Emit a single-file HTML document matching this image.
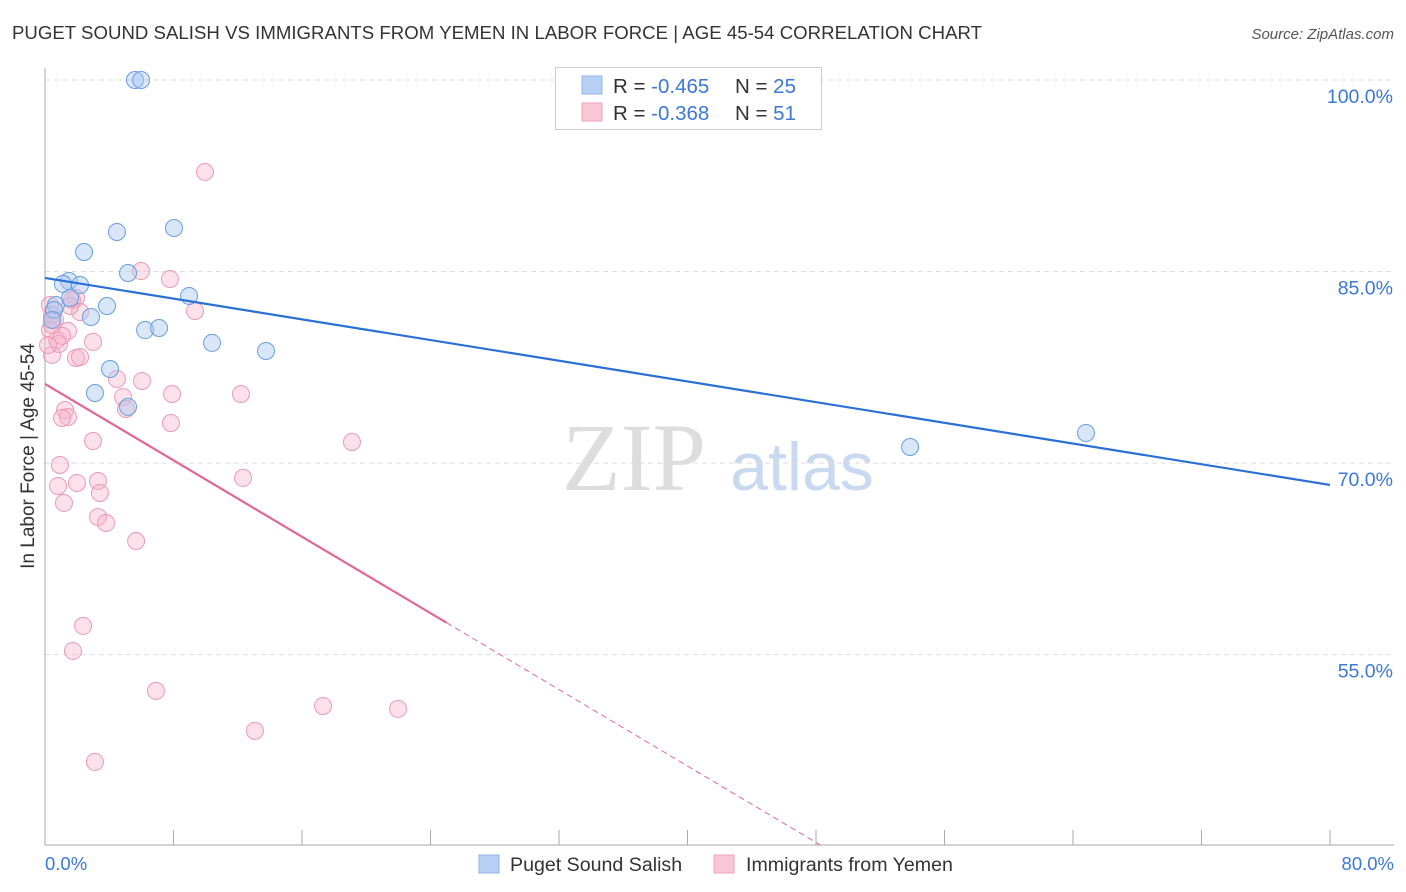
<!DOCTYPE html>
<html><head><meta charset="utf-8"><style>
body{margin:0;background:#fff;font-family:"Liberation Sans",sans-serif;}
svg{display:block}
</style></head><body>
<svg id="chart" width="1406" height="892" font-family="Liberation Sans, sans-serif">
<text x="12" y="39" font-size="18.6" fill="#333" textLength="970">PUGET SOUND SALISH VS IMMIGRANTS FROM YEMEN IN LABOR FORCE | AGE 45-54 CORRELATION CHART</text>
<text x="1394" y="39" font-size="15" fill="#555" font-style="italic" text-anchor="end">Source: ZipAtlas.com</text>
<g>
<text x="634" y="490" font-size="96" fill="#ddd" font-family="Liberation Serif, serif" text-anchor="middle">ZIP</text>
<text x="802" y="490" font-size="68" fill="#c9d9ef" text-anchor="middle">atlas</text>
</g>
<g id="grid"></g>
<line x1="45" y1="68" x2="45" y2="845" stroke="#aaa"/>
<line x1="45" y1="845" x2="1394" y2="845" stroke="#aaa"/>
<text transform="translate(34,456) rotate(-90)" font-size="19" fill="#333" text-anchor="middle">In Labor Force | Age 45-54</text>
<text x="45" y="870" font-size="18.5" fill="#3b78d8">0.0%</text>
<text x="1394" y="870" font-size="18.5" fill="#3b78d8" text-anchor="end">80.0%</text>
<g id="marks"></g>
<g>
<rect x="555.5" y="67.5" width="266" height="62" fill="#fff" stroke="#ccc"/>
<rect x="582" y="76" width="20" height="18" fill="#b7d0f4" stroke="#8fb3e8"/>
<rect x="582" y="103" width="20" height="18" fill="#f9c6d6" stroke="#f0a3bc"/>
<text x="613" y="93" font-size="20.5" fill="#333">R = <tspan fill="#3b78d8">-0.465</tspan><tspan x="735">N = </tspan><tspan fill="#3b78d8">25</tspan></text>
<text x="613" y="120" font-size="20.5" fill="#333">R = <tspan fill="#3b78d8">-0.368</tspan><tspan x="735">N = </tspan><tspan fill="#3b78d8"> 51</tspan></text>
</g>
<g>
<rect x="479" y="855" width="20" height="18" fill="#b7d0f4" stroke="#8fb3e8"/>
<text x="510" y="871" font-size="19.6" fill="#333">Puget Sound Salish</text>
<rect x="714" y="855" width="20" height="18" fill="#f9c6d6" stroke="#f0a3bc"/>
<text x="746" y="871" font-size="19.6" fill="#333">Immigrants from Yemen</text>
</g>
</svg>
<script>
const yTicks=[100,85,70,55];
const yTickLabels=["100.0%","85.0%","70.0%","55.0%"];
const blueX=[5.60,5.98,2.43,4.48,8.03,5.17,1.49,1.12,2.18,8.97,3.86,0.68,0.56,2.86,6.23,7.10,10.40,13.76,4.05,3.11,5.17,53.86,64.81,0.44,1.56];
const blueY=[100,100,86.53,88.10,88.41,84.89,84.26,84.03,83.95,83.09,82.30,82.38,81.99,81.44,80.42,80.58,79.41,78.78,77.37,75.49,74.40,71.26,72.36,81.21,82.93];
const pinkX=[9.96,5.98,7.78,1.93,1.68,9.34,2.18,0.31,0.44,0.62,0.31,1.43,0.75,0.87,2.99,0.44,1.93,2.18,4.48,6.04,7.91,12.20,4.86,5.04,1.25,1.43,1.06,7.84,2.99,19.11,0.93,0.81,3.30,1.99,12.33,3.42,1.18,3.30,3.80,5.67,2.37,1.74,6.91,17.31,21.98,13.07,3.11,0.44,0.19,1.56,1.06];
const pinkY=[92.80,85.04,84.42,82.93,82.77,81.91,81.83,82.38,81.60,81.21,80.43,80.35,79.64,79.33,79.49,78.47,78.23,78.31,76.59,76.43,75.41,75.41,75.18,74.24,74.16,73.61,73.53,73.14,71.73,71.65,69.85,68.21,68.60,68.44,68.84,67.66,66.88,65.78,65.31,63.90,57.25,55.29,52.16,50.98,50.75,49.03,46.60,80.82,79.25,82.30,79.96];
const blueTrend=[84.50,68.29];
const pinkTrend=[76.20,-0.748];
const xs=v=>45+v*1285/80;
const ys=v=>80+(100-v)*12.77;
const NS="http://www.w3.org/2000/svg";
const grid=document.getElementById('grid'), marks=document.getElementById('marks');
function mk(tag,attrs,parent){const e=document.createElementNS(NS,tag);for(const k in attrs)e.setAttribute(k,attrs[k]);parent.appendChild(e);return e;}
yTicks.forEach((t,i)=>{
 const l=mk('line',{x1:45,x2:1394,y1:ys(t),y2:ys(t),stroke:'#ddd','stroke-dasharray':'5,4'},grid);
 
 
 const tx=mk('text',{x:1393,y:ys(t)+23,'font-size':19.5,fill:'#3b78d8','text-anchor':'end'},grid);
 tx.textContent=yTickLabels[i];
 
 
});
for(let i=0;i<=10;i++){
 const t=mk('line',{x1:xs(i*8),x2:xs(i*8),y1:830,y2:845,stroke:'#aaa'},grid);
 
 
}
pinkX.forEach((x,i)=>{
 const c=mk('circle',{cx:xs(x),cy:ys(pinkY[i]),r:8.5,fill:'rgba(248,180,203,0.4)',stroke:'#eb9ab6','stroke-width':1},marks);
 
 
});
blueX.forEach((x,i)=>{
 const c=mk('circle',{cx:xs(x),cy:ys(blueY[i]),r:8.5,fill:'rgba(170,200,240,0.45)',stroke:'#6a9de0','stroke-width':1},marks);
 
 
});
let b=mk('line',{x1:xs(0),y1:ys(blueTrend[0]),x2:xs(80),y2:ys(blueTrend[1]),stroke:'#2a6fd6','stroke-width':2.2},marks);


const pf=x=>pinkTrend[0]+pinkTrend[1]*x;
let p=mk('line',{x1:xs(0),y1:ys(pf(0)),x2:xs(25),y2:ys(pf(25)),stroke:'#e06893','stroke-width':2.2},marks);


const xe=(pinkTrend[0]-40.1)/-pinkTrend[1];
let pd=mk('line',{x1:xs(25),y1:ys(pf(25)),x2:xs(xe),y2:ys(pf(xe)),stroke:'#e06893','stroke-width':1,'stroke-dasharray':'6,4'},marks);


</script>
</body></html>
